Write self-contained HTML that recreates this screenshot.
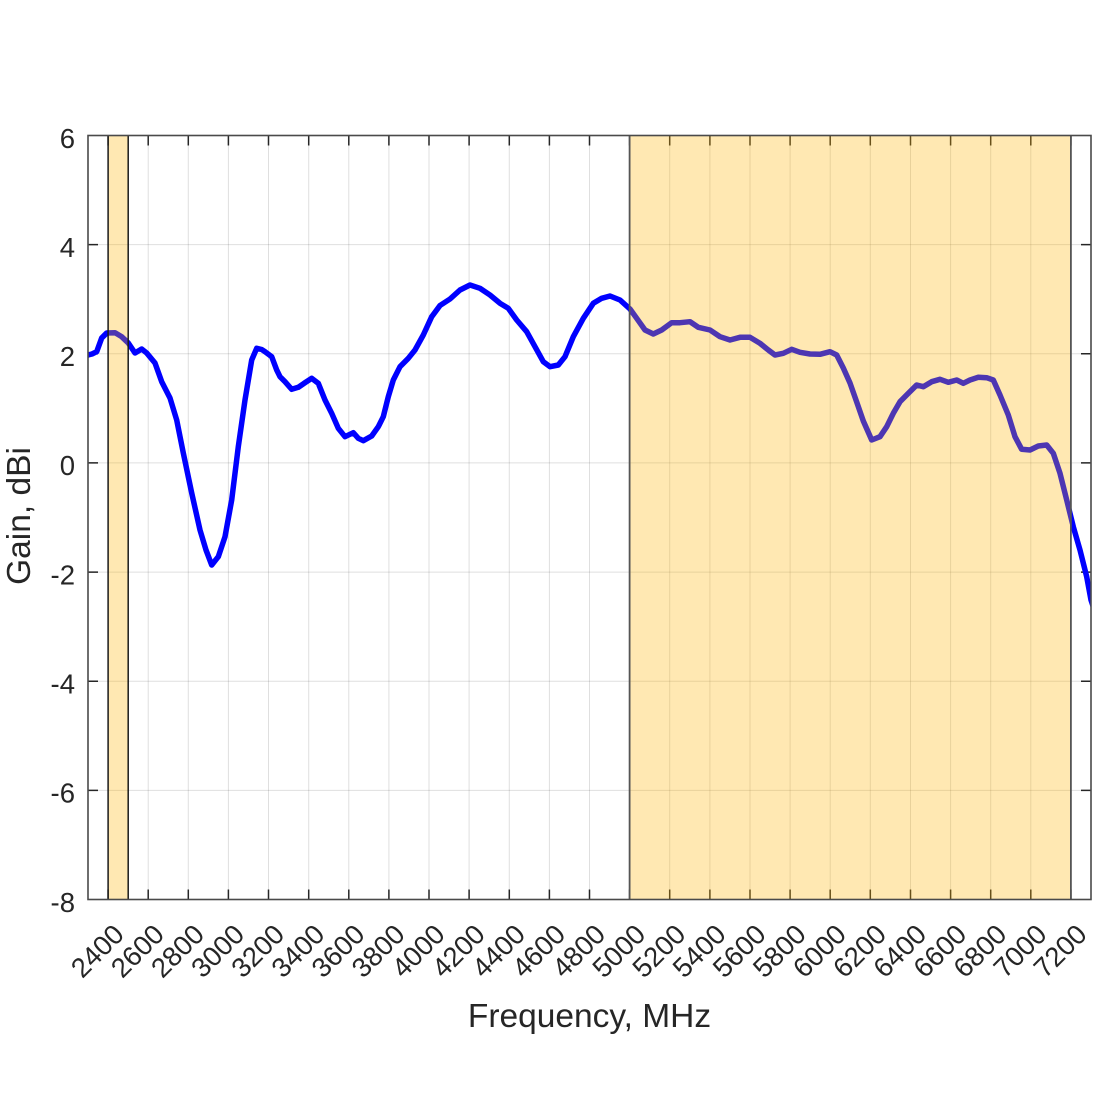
<!DOCTYPE html>
<html>
<head>
<meta charset="utf-8">
<style>
  html,body{margin:0;padding:0;background:#fff;}
  svg{display:block;}
  text{font-family:"Liberation Sans",Arial,sans-serif;fill:#262626;}
</style>
</head>
<body>
<svg width="1100" height="1100" viewBox="0 0 1100 1100" xmlns="http://www.w3.org/2000/svg">
  <defs>
    <clipPath id="ax"><rect x="88" y="135.5" width="1003" height="764"/></clipPath>
  </defs>
  <rect x="0" y="0" width="1100" height="1100" fill="#fff"/>

  <!-- grid -->
  <g stroke="#262626" stroke-opacity="0.15" stroke-width="1">
    <line x1="108.1" y1="135.5" x2="108.1" y2="899.5"/>
    <line x1="148.2" y1="135.5" x2="148.2" y2="899.5"/>
    <line x1="188.3" y1="135.5" x2="188.3" y2="899.5"/>
    <line x1="228.4" y1="135.5" x2="228.4" y2="899.5"/>
    <line x1="268.5" y1="135.5" x2="268.5" y2="899.5"/>
    <line x1="308.7" y1="135.5" x2="308.7" y2="899.5"/>
    <line x1="348.8" y1="135.5" x2="348.8" y2="899.5"/>
    <line x1="388.9" y1="135.5" x2="388.9" y2="899.5"/>
    <line x1="429.0" y1="135.5" x2="429.0" y2="899.5"/>
    <line x1="469.1" y1="135.5" x2="469.1" y2="899.5"/>
    <line x1="509.3" y1="135.5" x2="509.3" y2="899.5"/>
    <line x1="549.4" y1="135.5" x2="549.4" y2="899.5"/>
    <line x1="589.5" y1="135.5" x2="589.5" y2="899.5"/>
    <line x1="629.6" y1="135.5" x2="629.6" y2="899.5"/>
    <line x1="669.7" y1="135.5" x2="669.7" y2="899.5"/>
    <line x1="709.9" y1="135.5" x2="709.9" y2="899.5"/>
    <line x1="750.0" y1="135.5" x2="750.0" y2="899.5"/>
    <line x1="790.1" y1="135.5" x2="790.1" y2="899.5"/>
    <line x1="830.2" y1="135.5" x2="830.2" y2="899.5"/>
    <line x1="870.3" y1="135.5" x2="870.3" y2="899.5"/>
    <line x1="910.5" y1="135.5" x2="910.5" y2="899.5"/>
    <line x1="950.6" y1="135.5" x2="950.6" y2="899.5"/>
    <line x1="990.7" y1="135.5" x2="990.7" y2="899.5"/>
    <line x1="1030.8" y1="135.5" x2="1030.8" y2="899.5"/>
    <line x1="1070.9" y1="135.5" x2="1070.9" y2="899.5"/>
    <line x1="88" y1="244.6" x2="1091" y2="244.6"/>
    <line x1="88" y1="353.8" x2="1091" y2="353.8"/>
    <line x1="88" y1="462.9" x2="1091" y2="462.9"/>
    <line x1="88" y1="572.1" x2="1091" y2="572.1"/>
    <line x1="88" y1="681.2" x2="1091" y2="681.2"/>
    <line x1="88" y1="790.4" x2="1091" y2="790.4"/>
  </g>

  <!-- ticks -->
  <g stroke="#262626" stroke-width="1.5">
    <path d="M108.1 899.5v-10M148.2 899.5v-10M188.3 899.5v-10M228.4 899.5v-10M268.5 899.5v-10M308.7 899.5v-10M348.8 899.5v-10M388.9 899.5v-10M429.0 899.5v-10M469.1 899.5v-10M509.3 899.5v-10M549.4 899.5v-10M589.5 899.5v-10M629.6 899.5v-10M669.7 899.5v-10M709.9 899.5v-10M750.0 899.5v-10M790.1 899.5v-10M830.2 899.5v-10M870.3 899.5v-10M910.5 899.5v-10M950.6 899.5v-10M990.7 899.5v-10M1030.8 899.5v-10M1070.9 899.5v-10"/>
    <path d="M108.1 135.5v10M148.2 135.5v10M188.3 135.5v10M228.4 135.5v10M268.5 135.5v10M308.7 135.5v10M348.8 135.5v10M388.9 135.5v10M429.0 135.5v10M469.1 135.5v10M509.3 135.5v10M549.4 135.5v10M589.5 135.5v10M629.6 135.5v10M669.7 135.5v10M709.9 135.5v10M750.0 135.5v10M790.1 135.5v10M830.2 135.5v10M870.3 135.5v10M910.5 135.5v10M950.6 135.5v10M990.7 135.5v10M1030.8 135.5v10M1070.9 135.5v10"/>
    <path d="M88 244.6h10M88 353.8h10M88 462.9h10M88 572.1h10M88 681.2h10M88 790.4h10"/>
    <path d="M1091 244.6h-10M1091 353.8h-10M1091 462.9h-10M1091 572.1h-10M1091 681.2h-10M1091 790.4h-10"/>
  </g>

  <!-- curve -->
  <g clip-path="url(#ax)">
    <polyline fill="none" stroke="#0000ff" stroke-width="5.5" stroke-linejoin="round" stroke-linecap="round"
      points="86,356 88,355 92,354 96.7,351.7 101.7,338 106.7,333 115,332.7 121.7,336.7 128.3,343 135,353 141.7,349 146.7,353 155,363 161.7,381.7 170,398 176.7,420 183.3,453 191.7,493 200,530 206,550 211.7,565 218.3,556.7 225,536.7 231.7,500 238.3,446.7 245,400 251.7,360 256.7,348.3 261.7,349.5 265,351.7 271.7,356.7 276.7,370 280,376.7 285,381.7 291.7,389.3 298.3,387.3 305,382.7 311.7,378.3 318.3,383.3 325,400 331.7,413.3 338.3,428.3 345,436.7 353.3,432.7 358.3,438.3 363.3,440.7 371.7,436 378.3,426.7 383.3,416.7 388.3,396.7 393.3,380 400,366.7 408.3,358.3 415,350 423.3,335 431.7,316.7 440,305.5 450,299 460,290 470,285 480,288.3 490,295 500,303.3 508.3,308.3 516.7,320 526.7,331.7 535,346.7 543.3,361.7 550,366.7 558.3,365 565,356.7 573.3,336.7 583.3,318.3 593.3,303.3 601.7,298.3 610,296 620,300 630,309 636.7,318.3 645,330 653.3,334 661.7,330 671.7,322.7 680,322.7 690,321.7 698.3,327.3 710,330 720,336.7 730,340 740,337.3 750,337.3 760,343.3 768.3,350 775,355 783.3,353.3 791.7,349.3 800,352.3 810,354 820,354.3 830,351.7 836.7,355 843.3,368 850,383 856.7,402 863.3,421 871.7,440 880,436.7 886.7,426.7 893.3,413.3 900,401.7 908.3,393.3 916.7,385 923.3,386.7 931.7,381.7 940,379.3 948.3,382.3 956.7,380 963.3,383.3 970,380 978.3,377.3 986.7,377.7 993.3,380 1000,395 1008.3,415 1015,436.7 1021.7,449.3 1030,450 1038.3,446 1046.7,445 1053.3,453.3 1060,473.3 1066.7,500 1073.3,526.7 1080,550 1086.7,576.7 1091,600 1093,606"/>
  </g>

  <!-- bands (over curve, semi-transparent) -->
  <rect x="108.1" y="135.5" width="20.1" height="764" fill="#ffb300" fill-opacity="0.3"/>
  <rect x="629.6" y="135.5" width="441.3" height="764" fill="#ffb300" fill-opacity="0.3"/>
  <g stroke="#1a1a1a" stroke-width="1.5">
    <line x1="108.1" y1="135.5" x2="108.1" y2="899.5"/>
    <line x1="128.2" y1="135.5" x2="128.2" y2="899.5"/>
  </g>
  <g stroke="#555" stroke-width="1.8">
    <line x1="629.6" y1="135.5" x2="629.6" y2="899.5"/>
    <line x1="1070.9" y1="135.5" x2="1070.9" y2="899.5"/>
  </g>

  <!-- axes box -->
  <rect x="88" y="135.5" width="1003" height="764" fill="none" stroke="#4a4a4a" stroke-width="1.6"/>

  <!-- y tick labels -->
  <g font-size="27.5" text-anchor="end">
    <text x="75" y="147.8">6</text>
    <text x="75" y="256.9">4</text>
    <text x="75" y="366.1">2</text>
    <text x="75" y="475.2">0</text>
    <text x="75" y="584.4">-2</text>
    <text x="75" y="693.5">-4</text>
    <text x="75" y="802.7">-6</text>
    <text x="75" y="911.8">-8</text>
  </g>

  <!-- x tick labels -->
  <g font-size="27.5" text-anchor="end">
    <text transform="translate(125.6,936) rotate(-45)">2400</text>
    <text transform="translate(165.7,936) rotate(-45)">2600</text>
    <text transform="translate(205.8,936) rotate(-45)">2800</text>
    <text transform="translate(245.9,936) rotate(-45)">3000</text>
    <text transform="translate(286.0,936) rotate(-45)">3200</text>
    <text transform="translate(326.2,936) rotate(-45)">3400</text>
    <text transform="translate(366.3,936) rotate(-45)">3600</text>
    <text transform="translate(406.4,936) rotate(-45)">3800</text>
    <text transform="translate(446.5,936) rotate(-45)">4000</text>
    <text transform="translate(486.6,936) rotate(-45)">4200</text>
    <text transform="translate(526.8,936) rotate(-45)">4400</text>
    <text transform="translate(566.9,936) rotate(-45)">4600</text>
    <text transform="translate(607.0,936) rotate(-45)">4800</text>
    <text transform="translate(647.1,936) rotate(-45)">5000</text>
    <text transform="translate(687.2,936) rotate(-45)">5200</text>
    <text transform="translate(727.4,936) rotate(-45)">5400</text>
    <text transform="translate(767.5,936) rotate(-45)">5600</text>
    <text transform="translate(807.6,936) rotate(-45)">5800</text>
    <text transform="translate(847.7,936) rotate(-45)">6000</text>
    <text transform="translate(887.8,936) rotate(-45)">6200</text>
    <text transform="translate(928.0,936) rotate(-45)">6400</text>
    <text transform="translate(968.1,936) rotate(-45)">6600</text>
    <text transform="translate(1008.2,936) rotate(-45)">6800</text>
    <text transform="translate(1048.3,936) rotate(-45)">7000</text>
    <text transform="translate(1088.4,936) rotate(-45)">7200</text>
  </g>

  <!-- axis labels -->
  <text x="589.5" y="1027" font-size="33.5" text-anchor="middle">Frequency, MHz</text>
  <text transform="translate(30,516) rotate(-90)" font-size="33.5" text-anchor="middle">Gain, dBi</text>
</svg>
</body>
</html>
